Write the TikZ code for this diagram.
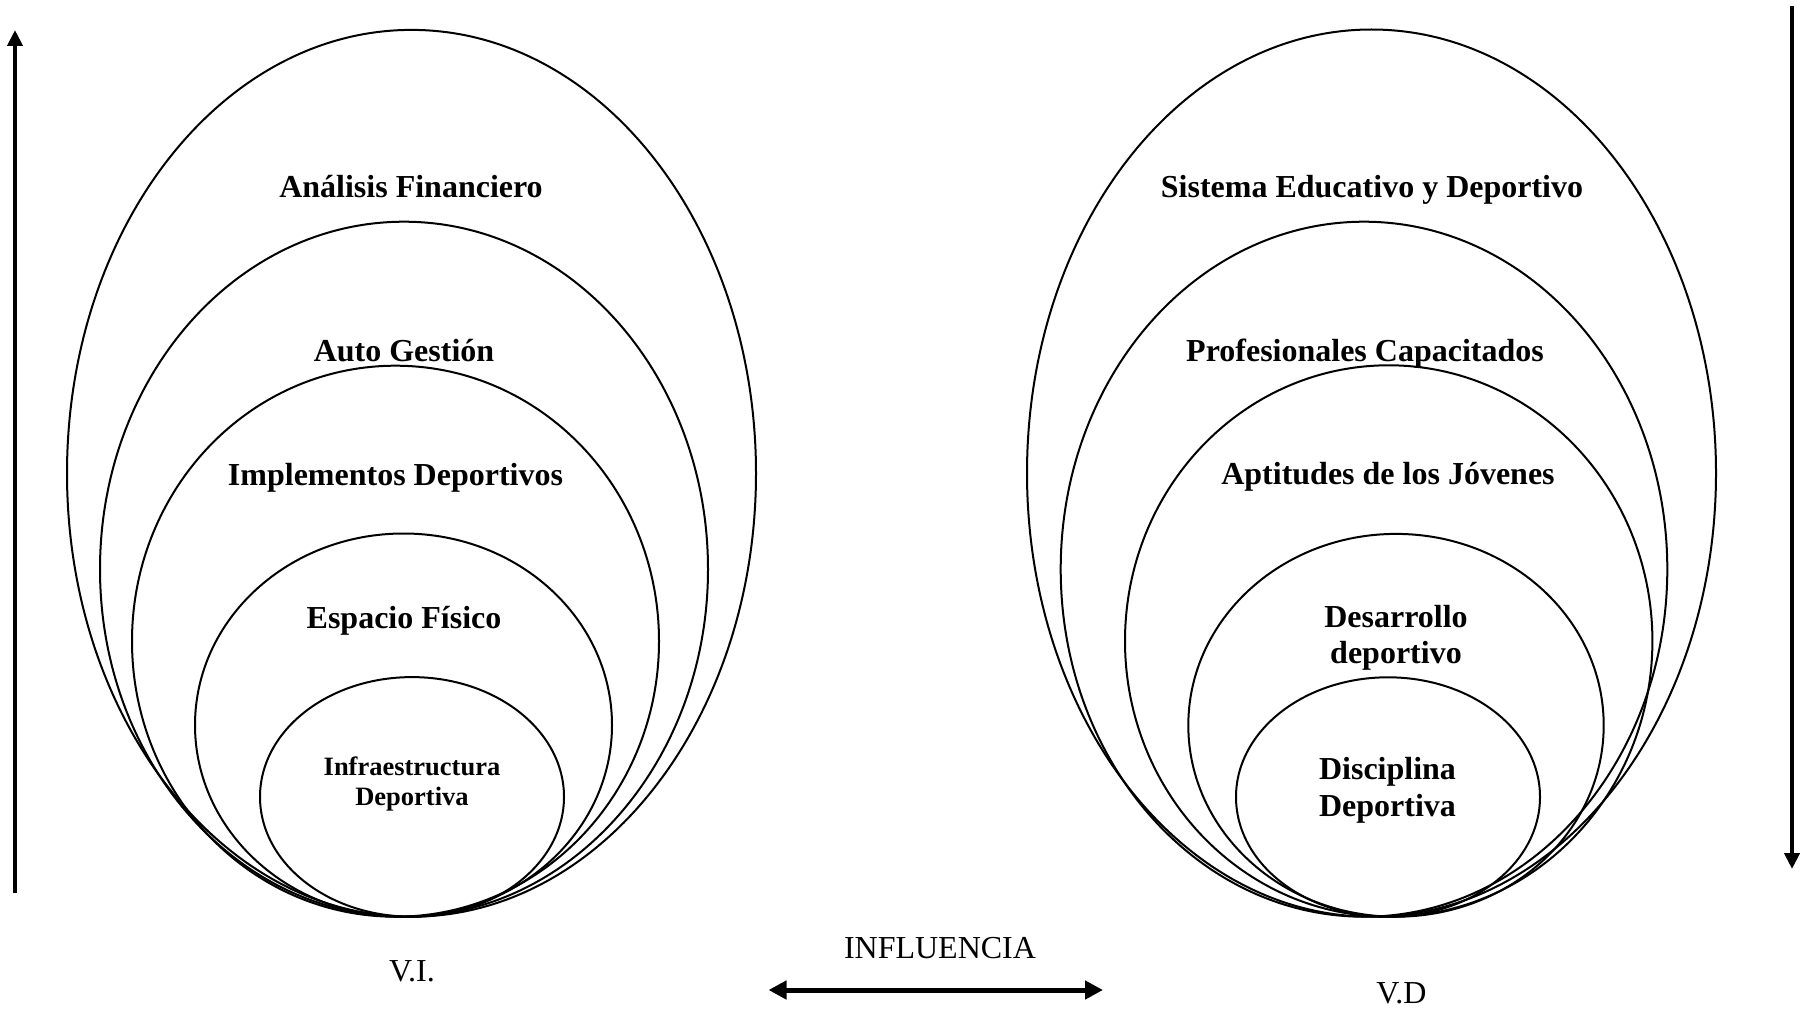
\documentclass[tikz,border=0pt]{standalone}
\usepackage{fontspec}
\setmainfont{Liberation Serif}
\usetikzlibrary{arrows.meta}
\tikzset{
  ring/.style={draw=black, line width=2pt},
  lbl/.style={font=\bfseries\fontsize{32}{36.8}\selectfont, anchor=base, inner sep=0pt, align=center},
  lblsmall/.style={font=\bfseries\fontsize{26.5}{30.7}\selectfont, anchor=base, inner sep=0pt, align=center},
  plain/.style={font=\fontsize{32}{36.8}\selectfont, anchor=base, inner sep=0pt},
  varrow/.style={line width=4pt, -{Triangle[length=16pt,width=15pt]}},
  darrow/.style={line width=5pt, {Triangle[length=18pt,width=18pt]}-{Triangle[length=18pt,width=18pt]}}
}
\begin{document}
\begin{tikzpicture}[x=1pt,y=-1pt]
\useasboundingbox[fill=white] (0,0) rectangle (1804,1011);
% left ellipses
\draw[ring] (411.5,473.3) ellipse [x radius=344.5, y radius=443.4];
\draw[ring] (404,569.2) ellipse [x radius=304, y radius=347.5];
\draw[ring] (395.5,641.2) ellipse [x radius=263.5, y radius=275.5];
\draw[ring] (403.5,725.1) ellipse [x radius=208.5, y radius=191.6];
\draw[ring] (412,796.9) ellipse [x radius=152, y radius=119.8];
% right ellipses
\draw[ring] (1371.5,473.1) ellipse [x radius=344.5, y radius=443.6];
\draw[ring] (1364,569.2) ellipse [x radius=303.3, y radius=347.5];
\draw[ring] (1388.7,641.0) ellipse [x radius=263.7, y radius=275.7];
\draw[ring] (1396,725.3) ellipse [x radius=207.7, y radius=191.4];
\draw[ring] (1388,797.0) ellipse [x radius=152, y radius=119.7];
% left labels
\node[lbl] (af) at (411,197) {Análisis Financiero};
\node[lbl] (ag) at (404,361.7) {Auto Gestión};
\node[lbl] (id) at (395.5,485) {Implementos Deportivos};
\node[lbl] (ef) at (404,628) {Espacio Físico};
\node[lblsmall] (inf1) at (412,775) {Infraestructura};
\node[lblsmall] (inf2) at (412,805.7) {Deportiva};
% right labels
\node[lbl] (se) at (1372,197) {Sistema Educativo y Deportivo};
\node[lbl] (pc) at (1365,361) {Profesionales Capacitados};
\node[lbl] (aj) at (1388,484) {Aptitudes de los Jóvenes};
\node[lbl] (dd1) at (1396,627) {Desarrollo};
\node[lbl] (dd2) at (1396,663) {deportivo};
\node[lbl] (di1) at (1387.5,779) {Disciplina};
\node[lbl] (di2) at (1387.5,816) {Deportiva};
% bottom labels
\node[plain] (vi) at (412,981.7) {V.I.};
\node[plain] (infl) at (940,958.5) {INFLUENCIA};
\node[plain] (vd) at (1401.5,1003) {V.D};
% arrows
\coordinate (lb) at (15,893);
\coordinate (lt) at (15,30);
\coordinate (rt) at (1792,6);
\coordinate (rb) at (1792,869);
\coordinate (dl) at (768.5,990);
\coordinate (dr) at (1103,990);
\draw[varrow] (lb) -- (lt);
\draw[varrow] (rt) -- (rb);
\draw[darrow] (dl) -- (dr);
\end{tikzpicture}
\end{document}
